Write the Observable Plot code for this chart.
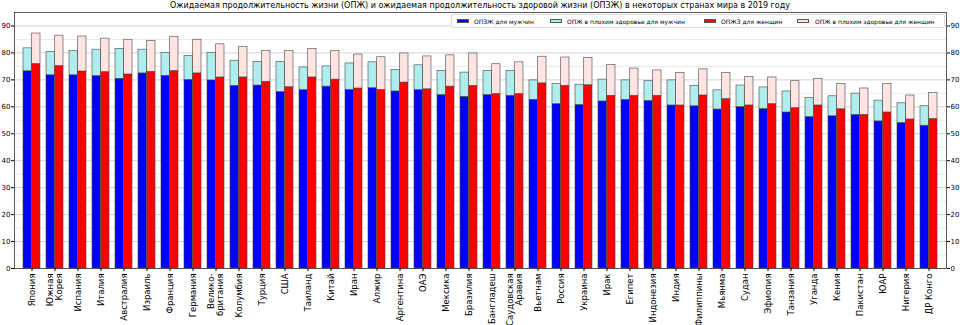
<!DOCTYPE html>
<html><head><meta charset="utf-8">
<script src="https://cdn.jsdelivr.net/npm/d3@7"></script>
<script src="https://cdn.jsdelivr.net/npm/@observablehq/plot@0.6"></script>
<style>
body{margin:0;background:#fff;font-family:"DejaVu Sans",sans-serif;}
#wrap{position:relative;width:960px;height:325px;overflow:hidden;}
#title{position:absolute;left:0;width:960px;top:0;text-align:center;font-size:8px;line-height:11px;color:#000;z-index:2;}
#legend{position:absolute;left:451px;top:14px;width:492px;height:12px;border:1px solid #ddd;border-radius:2px;background:rgba(255,255,255,0.85);font-size:6px;color:#000;z-index:2;}
#legend .sw{position:absolute;top:4px;width:12px;height:4px;border:0.6px solid #555;box-sizing:border-box;}
#legend .tx{position:absolute;top:1.5px;line-height:9px;white-space:nowrap;}
</style></head>
<body><div id="wrap"><div id="title"></div><div id="legend"></div></div>
<script>
const countries = ["Япония","Южная\nКорея","Испания","Италия","Австралия","Израиль","Франция","Германия","Велико-\nбритания","Колумбия","Турция","США","Таиланд","Китай","Иран","Алжир","Аргентина","ОАЭ","Мексика","Бразилия","Бангладеш","Саудовская\nАравия","Вьетнам","Россия","Украина","Ирак","Египет","Индонезия","Индия","Филиппины","Мьянма","Судан","Эфиопия","Танзания","Уганда","Кения","Пакистан","ЮАР","Нигерия","ДР Конго"];
const maleLE = [81.7,80.4,80.7,81.2,81.5,81.2,79.9,78.9,80.0,77.1,76.6,76.6,74.6,75.0,76.1,76.5,73.7,75.4,73.3,72.7,73.3,73.3,69.8,68.4,68.2,70.1,69.8,69.5,69.8,67.8,66.1,67.9,67.2,65.7,63.3,63.9,64.9,62.3,61.3,60.2];
const maleHALE = [73.2,71.7,71.7,71.4,70.4,72.4,71.5,70.0,69.8,67.8,67.9,65.5,66.2,67.5,66.3,66.9,65.7,66.2,64.4,63.7,64.4,64.1,62.6,61.0,60.7,62.0,62.6,62.2,60.5,60.2,59.0,59.9,59.2,57.9,56.2,56.5,57.0,54.6,54.0,53.0];
const femaleLE = [87.2,86.4,86.1,85.3,84.9,84.5,86.0,84.9,83.2,82.3,80.8,80.8,81.4,80.7,79.4,78.4,79.8,78.7,79.1,79.8,75.8,76.5,78.6,78.3,78.1,75.5,74.2,73.5,72.5,73.9,72.5,71.0,70.9,69.5,70.4,68.5,66.8,68.5,64.2,65.1];
const femaleHALE = [75.9,75.1,73.1,72.9,72.0,73.0,73.3,72.4,70.9,70.9,69.3,67.3,70.9,70.1,66.8,66.3,69.0,66.5,67.5,67.8,64.7,64.7,68.7,67.8,68.0,64.1,64.1,64.1,60.5,64.2,62.9,60.5,61.0,59.5,60.5,59.1,57.0,57.9,55.3,55.5];
const seriesNames = ["ОПЗЖ для мужчин","ОПЖ в плохим здоровье для мужчин","ОПЖЗ для женщин","ОПЖ в плохим здоровье для женщин"];
const seriesColors = ["#0000ff","#afeeee","#ff0000","#ffe4e1"];
const yTicks = [0,10,20,30,40,50,60,70,80,90];
const titleText = "Ожидаемая продолжительность жизни (ОПЖ) и ожидаемая продолжительность здоровой жизни (ОПЗЖ) в некоторых странах мира в 2019 году";

const data = countries.map((c,i)=>({c, mLE:maleLE[i], mH:maleHALE[i], fLE:femaleLE[i], fH:femaleHALE[i]}));

const W=960,H=325,mL=14,mR=14,mT=12,mB=57;
const pIn=0.25,pOut=0.185;
const step=(W-mL-mR)/(countries.length-pIn+2*pOut);
const half=step*(1-pIn)/2;
const edge={stroke:"#444",strokeWidth:0.6};

const chart = Plot.plot({
  width:W,height:H,marginLeft:mL,marginRight:mR,marginTop:mT,marginBottom:mB,
  style:{fontFamily:"DejaVu Sans",background:"transparent",color:"#000"},
  x:{type:"band",domain:countries,paddingInner:pIn,paddingOuter:pOut,axis:null},
  y:{domain:[0,95],axis:null},
  marks:[
    Plot.ruleY(d3.range(5,95,10),{stroke:"#e4e4e4",strokeWidth:0.8}),
    Plot.ruleY(yTicks,{stroke:"#c8c8c8",strokeWidth:0.8}),
    Plot.barY(data,{x:"c",y1:0,y2:"mH",fill:seriesColors[0],insetRight:half,...edge}),
    Plot.barY(data,{x:"c",y1:"mH",y2:"mLE",fill:seriesColors[1],insetRight:half,...edge}),
    Plot.barY(data,{x:"c",y1:0,y2:"fH",fill:seriesColors[2],insetLeft:half,...edge}),
    Plot.barY(data,{x:"c",y1:"fH",y2:"fLE",fill:seriesColors[3],insetLeft:half,...edge}),
    Plot.frame({stroke:"#333",strokeWidth:0.8}),
    Plot.axisY({anchor:"left",ticks:yTicks,tickSize:3,tickPadding:1,fontSize:7,label:null}),
    Plot.axisY({anchor:"right",ticks:yTicks,tickSize:3,tickPadding:1,fontSize:7,label:null}),
    Plot.axisX({anchor:"bottom",tickRotate:-90,tickSize:3,tickPadding:2,fontSize:8.5,label:null})
  ]
});
const wrap=document.getElementById("wrap");
wrap.appendChild(chart);
document.getElementById("title").textContent=titleText;
const lg=document.getElementById("legend");
const swLeft=[5,98,252,345], txLeft=[22,115,269,363];
seriesNames.forEach((n,i)=>{
  const sw=document.createElement("span");sw.className="sw";sw.style.background=seriesColors[i];sw.style.left=swLeft[i]+"px";
  const t=document.createElement("span");t.className="tx";t.textContent=n;t.style.left=txLeft[i]+"px";
  lg.appendChild(sw);lg.appendChild(t);
});
</script></body></html>
